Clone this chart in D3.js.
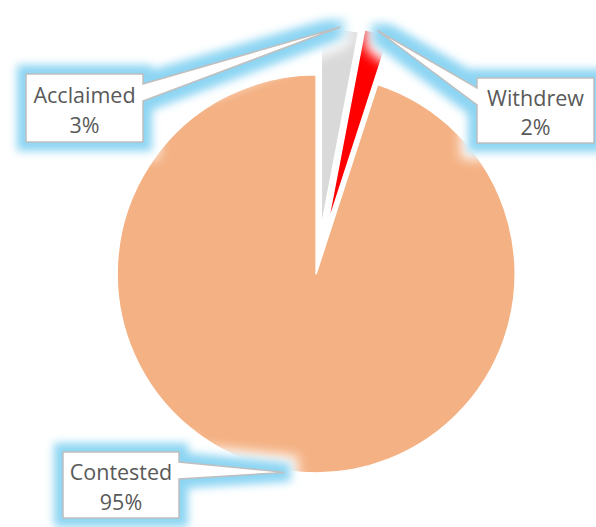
<!DOCTYPE html>
<html>
<head>
<meta charset="utf-8">
<script src="https://cdn.jsdelivr.net/npm/d3@7"></script>
<style>
  html, body { margin: 0; padding: 0; background: #fff; }
  svg { display: block; }
</style>
</head>
<body>
<svg id="chart" width="596" height="527"></svg>
<script>
// ---- data ----
const categories = ["Acclaimed", "Withdrew", "Contested"];
const values = [3, 2, 95];
const percentLabels = ["3%", "2%", "95%"];
const colors = ["#D9D9D9", "#FF0000", "#F4B183"];

// ---- layout / style ----
const W = 596, H = 527;
const cx = 318, cy = 262, R = 199;
const explode = [35, 38, 12];
const boxes = [
  { x: 26,  y: 74,  w: 117, h: 68, side: "right" },
  { x: 477, y: 78,  w: 117, h: 65, side: "left" },
  { x: 63,  y: 452, w: 116, h: 66, side: "right" }
];

const svg = d3.select("#chart");
const defs = svg.append("defs");

function glowFilter(id, radius, blur, color) {
  const f = defs.append("filter").attr("id", id)
    .attr("filterUnits", "userSpaceOnUse")
    .attr("x", -60).attr("y", -60).attr("width", W + 120).attr("height", H + 120);
  f.append("feMorphology").attr("in", "SourceAlpha").attr("operator", "dilate")
    .attr("radius", radius).attr("result", "d");
  f.append("feGaussianBlur").attr("in", "d").attr("stdDeviation", blur).attr("result", "b");
  f.append("feFlood").attr("flood-color", color).attr("result", "c");
  f.append("feComposite").attr("in", "c").attr("in2", "b").attr("operator", "in");
}
glowFilter("halo", 16, 6, "#ffffff");
glowFilter("glow", 9, 4.5, "#8DD5F3");

const data = categories.map((c, i) => ({ cat: c, value: values[i], pct: percentLabels[i], color: colors[i], ex: explode[i], box: boxes[i] }));

const pie = d3.pie().sort(null).value(d => d.value).startAngle(0).endAngle(2 * Math.PI);
const arcs = pie(data);
const arc = d3.arc().innerRadius(0).outerRadius(R);

arcs.forEach(a => {
  const mid = (a.startAngle + a.endAngle) / 2;
  a.ox = cx + a.data.ex * Math.sin(mid);
  a.oy = cy - a.data.ex * Math.cos(mid);
  a.tipX = a.ox + (R + 2) * Math.sin(mid);
  a.tipY = a.oy - (R + 2) * Math.cos(mid);
});

// slices
svg.append("g").selectAll("path").data(arcs).join("path")
  .attr("transform", d => `translate(${d.ox},${d.oy})`)
  .attr("d", arc)
  .attr("fill", d => d.data.color)
  .attr("stroke", "#fff")
  .attr("stroke-width", 1.5)
  .attr("stroke-linejoin", "round");

function calloutPath(d) {
  const b = d.data.box;
  const x0 = b.x, y0 = b.y, x1 = b.x + b.w, y1 = b.y + b.h;
  const b1 = y0 + 10, b2 = y0 + 27;
  const p = d3.path();
  if (b.side === "right") {
    p.moveTo(x0, y0); p.lineTo(x1, y0); p.lineTo(x1, b1);
    p.lineTo(d.tipX, d.tipY); p.lineTo(x1, b2); p.lineTo(x1, y1);
    p.lineTo(x0, y1); p.closePath();
  } else {
    p.moveTo(x0, y0); p.lineTo(x1, y0); p.lineTo(x1, y1); p.lineTo(x0, y1);
    p.lineTo(x0, b2); p.lineTo(d.tipX, d.tipY); p.lineTo(x0, b1); p.closePath();
  }
  return p.toString();
}

// halos and glows
svg.append("g").attr("filter", "url(#halo)").selectAll("path").data(arcs).join("path")
  .attr("d", calloutPath).attr("fill", "#000");
svg.append("g").attr("filter", "url(#glow)").selectAll("path").data(arcs).join("path")
  .attr("d", calloutPath).attr("fill", "#000");

// callout shapes
svg.append("g").selectAll("path").data(arcs).join("path")
  .attr("d", calloutPath)
  .attr("fill", "#fff")
  .attr("stroke", "#BFBFBF")
  .attr("stroke-width", 1.5)
  .attr("stroke-linejoin", "miter");

// labels
const lbl = svg.append("g").selectAll("text").data(arcs).join("text")
  .attr("font-family", "'Open Sans', sans-serif")
  .attr("font-size", 21.5)
  .attr("fill", "#595959")
  .attr("text-anchor", "middle");
lbl.append("tspan")
  .attr("x", d => d.data.box.x + d.data.box.w / 2)
  .attr("y", d => d.data.box.y + d.data.box.h / 2 - 5)
  .text(d => d.data.cat);
lbl.append("tspan")
  .attr("x", d => d.data.box.x + d.data.box.w / 2)
  .attr("y", d => d.data.box.y + d.data.box.h / 2 + 24.5)
  .text(d => d.data.pct);
</script>
</body>
</html>
